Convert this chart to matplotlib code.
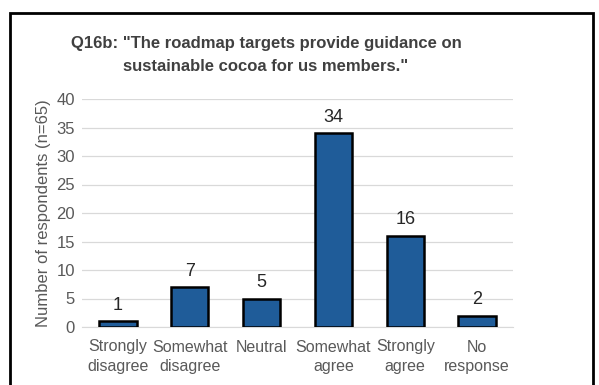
import matplotlib.pyplot as plt
from matplotlib.patches import Rectangle

# Survey responses for Q16b
categories = ["Strongly\ndisagree", "Somewhat\ndisagree", "Neutral",
              "Somewhat\nagree", "Strongly\nagree", "No\nresponse"]
counts = [1, 7, 5, 34, 16, 2]
yticks = [0, 5, 10, 15, 20, 25, 30, 35, 40]

plt.rcParams["font.family"] = ["Liberation Sans", "DejaVu Sans"]

W, H = 599, 385
fig = plt.figure(figsize=(W / 100, H / 100), dpi=100)
ax = fig.add_axes([82 / W, 1 - 327 / H, (513 - 82) / W, (327 - 99) / H])

grey = "#595959"
x = range(len(categories))
ax.bar(x, counts, width=0.52, color="#1f5c99", edgecolor="black", linewidth=1.8, zorder=3)
for xi, v in zip(x, counts):
    ax.text(xi, v + 1.3, str(v), ha="center", va="bottom", fontsize=13, color="#262626")

ax.set_xlim(-0.5, len(categories) - 0.5)
ax.set_ylim(0, 40)
ax.set_yticks(yticks)
ax.set_xticks(list(x))
ax.set_xticklabels(categories, fontsize=11.5, color=grey, linespacing=1.4)
ax.tick_params(axis="y", labelsize=12, labelcolor=grey, length=0, pad=5)
ax.tick_params(axis="x", length=0, pad=9)
ax.grid(axis="y", color="#d9d9d9", linewidth=0.9, zorder=0)
for s in ["top", "right", "left"]:
    ax.spines[s].set_visible(False)
ax.spines["bottom"].set_color("#d9d9d9")
ax.set_ylabel("Number of respondents (n=65)", fontsize=12, color=grey, labelpad=4)

fig.text(266 / W, 1 - 55 / H, "Q16b: \"The roadmap targets provide guidance on\nsustainable cocoa for us members.\"",
         ha="center", va="center", fontsize=12, fontweight="bold", color="#404040",
         linespacing=1.6)

# outer frame around the chart
fig.patches.append(Rectangle((10 / W, -0.05), (593 - 10) / W, 1 - 13 / H + 0.05,
                             transform=fig.transFigure, fill=False,
                             edgecolor="black", linewidth=2))

fig.savefig("out.png", dpi=100)
